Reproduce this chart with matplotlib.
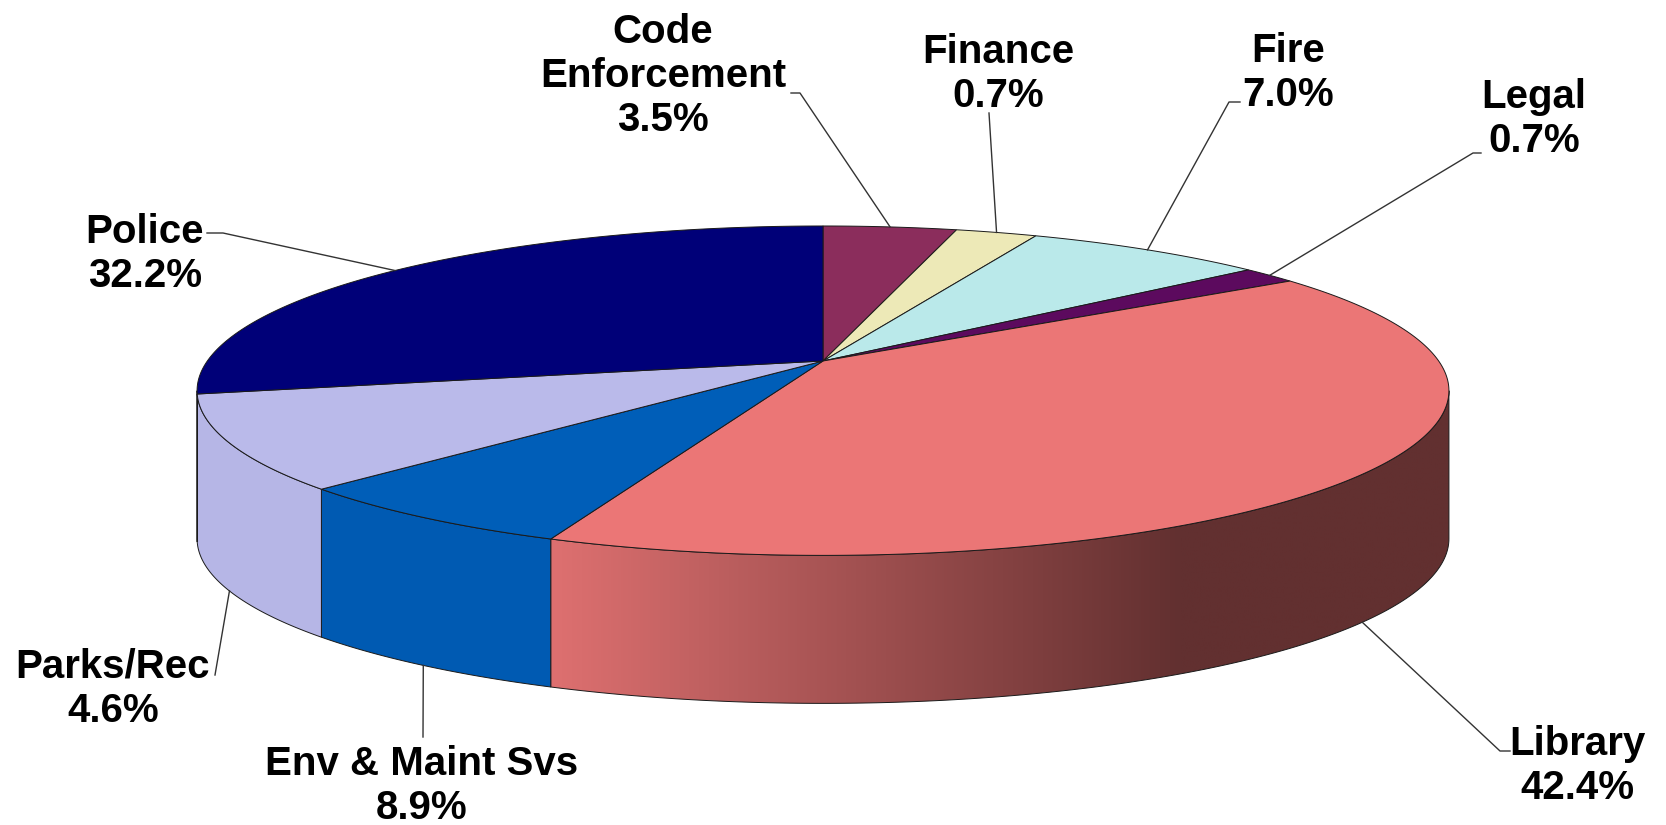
import numpy as np
import matplotlib.pyplot as plt
from matplotlib.patches import Polygon

# Departamentos (en el orden del grafico, a partir de las 12 y en sentido horario)
departments = ['Code\nEnforcement', 'Finance', 'Fire', 'Legal', 'Library',
               'Env & Maint Svs', 'Parks/Rec', 'Police']
pct_labels = ['3.5%', '0.7%', '7.0%', '0.7%', '42.4%', '8.9%', '4.6%', '32.2%']
# tamano de las porciones tal como se ven dibujadas (no coinciden del todo con las etiquetas)
slice_sizes = [4.1, 2.5, 7.4, 1.7, 40.3, 6.6, 9.2, 28.2]

top_colors = ['#8B2D5C', '#EDE9B7', '#BAE9EA', '#5C0A5E', '#EB7676',
              '#005EB8', '#BABAEA', '#000078']
wall_colors = ['#7A2850', '#D9D5A5', '#A8D6D6', '#500850', '#DE7070',
               '#005AB2', '#B6B6E6', '#000070']

# geometria del pastel 3D (en pixeles)
CX, CY = 823, 361
K = 3300
D = 5.36
ALPHA = np.radians(15)
WALL = 148


def top_point(theta):
    t = np.radians(theta)
    x, y = np.cos(t), np.sin(t)
    zc = D + y * np.cos(ALPHA)
    return CX + K * x / zc, CY - K * y * np.sin(ALPHA) / zc


def arc(a0, a1):
    n = max(3, int(abs(a0 - a1) * 2))
    return top_point(np.linspace(a0, a1, n))


fig = plt.figure(figsize=(16.66, 8.25), dpi=100)
ax = fig.add_axes([0, 0, 1, 1])
ax.set_xlim(0, 1666)
ax.set_ylim(825, 0)
ax.axis('off')

bounds = 90 - 3.6 * np.concatenate([[0], np.cumsum(slice_sizes)])
edge = '#1a1a1a'

# paredes laterales (solo la parte que se ve)
th = np.degrees(np.arcsin(-np.cos(ALPHA) / D))
vis_lo, vis_hi = -180 - th, th
for i in range(len(slice_sizes)):
    a0, a1 = bounds[i], bounds[i + 1]
    lo, hi = max(a1, vis_lo), min(a0, vis_hi)
    if hi <= lo:
        continue
    xs, ys = arc(lo, hi)
    pts = np.column_stack([np.concatenate([xs, xs[::-1]]),
                           np.concatenate([ys, ys[::-1] + WALL])])
    if departments[i] == 'Library':
        poly = Polygon(pts, closed=True, facecolor='none', edgecolor=edge, lw=0.7, zorder=2)
        ax.add_patch(poly)
        gx = np.linspace(xs.min(), xs.max(), 400)
        frac = (gx - gx[0]) / (gx[-1] - gx[0])
        light = np.array([222, 112, 112]) / 255
        dark = np.array([98, 48, 48]) / 255
        t = np.clip(frac / 0.7, 0, 1)[:, None]
        grad = (light * (1 - t) + dark * t)[None, :, :]
        im = ax.imshow(grad, extent=(gx[0], gx[-1], ys.max() + WALL + 2, ys.min() - 2),
                       aspect='auto', interpolation='bilinear', zorder=1)
        im.set_clip_path(poly)
    else:
        ax.add_patch(Polygon(pts, closed=True, facecolor=wall_colors[i],
                             edgecolor=edge, lw=0.7, zorder=2))

# caras superiores
for i in range(len(slice_sizes)):
    xs, ys = arc(bounds[i], bounds[i + 1])
    pts = np.column_stack([np.concatenate([[CX], xs]), np.concatenate([[CY], ys])])
    ax.add_patch(Polygon(pts, closed=True, facecolor=top_colors[i],
                         edgecolor=edge, lw=0.7, zorder=3))

# etiquetas: centro x, parte superior y, y el punto donde arranca la linea guia
label_pos = [(663, 13), (998, 33), (1288, 32), (1534, 78),
             (1577, 725), (422, 745), (113, 648), (145, 213)]
leader_start = [[(791, 93), (800, 93)], [(989, 113)], [(1240, 102), (1229, 102)],
                [(1481, 153), (1473, 153)], [(1500, 751), (1510, 751)],
                [(423, 737)], [(215, 675)], [(207, 233), (223, 233)]]
near = ['Library', 'Env & Maint Svs', 'Parks/Rec']

for i, name in enumerate(departments):
    mid = (bounds[i] + bounds[i + 1]) / 2
    axp, ayp = top_point(mid)
    if name in near:
        ayp = ayp + WALL
    path = leader_start[i] + [(axp, ayp)]
    if name == 'Library':
        path = [leader_start[i][1], leader_start[i][0], (axp, ayp)]
    px, py = zip(*path)
    ax.plot(px, py, color='#333333', lw=1.0, zorder=4)
    x, y = label_pos[i]
    ax.text(x, y, name + '\n' + pct_labels[i], ha='center', va='top',
            fontsize=29, fontweight='bold', family='Liberation Sans',
            linespacing=1.2, zorder=5)

fig.savefig('out.png', dpi=100, facecolor='white')
